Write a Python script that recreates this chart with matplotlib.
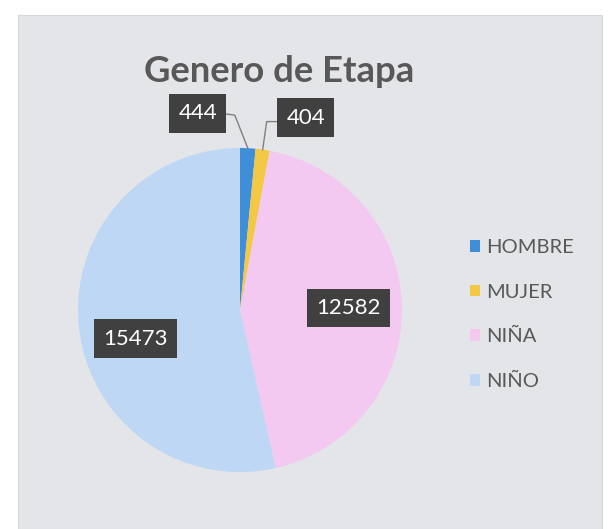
import numpy as np
import matplotlib
matplotlib.use("Agg")
import matplotlib.pyplot as plt
from matplotlib.patches import Rectangle

categories = ["HOMBRE", "MUJER", "NIÑA", "NIÑO"]
values = [444, 404, 12582, 15473]
colors = ["#3f8fd8", "#f2c845", "#f4c9f1", "#bdd7f4"]
title = "Genero de Etapa"

plt.rcParams['font.family'] = ['Lato', 'DejaVu Sans']

W, H = 615, 529
fig = plt.figure(figsize=(W / 100, H / 100), dpi=100, facecolor="white")
ax = fig.add_axes([0, 0, 1, 1])
ax.set_xlim(0, W)
ax.set_ylim(0, H)
ax.set_aspect("equal")
ax.axis("off")

# chart area background
ax.add_patch(Rectangle((18, 0), 584, H - 15, facecolor="#e4e5e8", edgecolor="#d8d8d8", lw=0.8, zorder=0))

cx, cy, R = 240, H - 310, 162
wedges, _ = ax.pie(values, colors=colors, startangle=90, counterclock=False,
                   center=(cx, cy), radius=R, frame=True,
                   wedgeprops=dict(linewidth=0))
ax.set_xlim(0, W)
ax.set_ylim(0, H)
ax.axis("off")

ax.text(279, H - 72, title, ha="center", va="center", fontsize=26.3,
        fontweight="bold", color="#585858")

box = dict(boxstyle="square,pad=0.42", facecolor="#404040", edgecolor="none")
lab_kw = dict(ha="center", va="center", fontsize=16, color="white", bbox=box, zorder=5)

total = sum(values)
angles = []
a = 90.0
for v in values:
    span = 360.0 * v / total
    angles.append(a - span / 2)
    a -= span

# small slices: outside labels with leader lines
small_offsets = {0: ((-50, 35), (-13, 33), (-27, 35)), 1: ((43, 32), (4, 28), (16, 28))}
for i, (toff, elbow, lineend) in small_offsets.items():
    th = np.deg2rad(angles[i])
    ex, ey = cx + R * np.cos(th), cy + R * np.sin(th)
    ax.plot([ex, ex + elbow[0], ex + lineend[0]], [ey, ey + elbow[1], ey + lineend[1]],
            color="#808080", lw=1.0, zorder=4)
    ax.text(ex + toff[0], ey + toff[1], str(values[i]), **lab_kw)

# big slices: inside labels
for i, dang in ((2, 0.0), (3, 9.0)):
    th = np.deg2rad(angles[i] + dang)
    ax.text(cx + 0.67 * R * np.cos(th), cy + 0.67 * R * np.sin(th), str(values[i]), **lab_kw)

leg = ax.legend(wedges, categories, loc="upper left", bbox_to_anchor=(470 / W, 1 - 239 / H),
                bbox_transform=fig.transFigure, frameon=False, fontsize=14.5,
                handlelength=0.5, handleheight=0.5, handletextpad=0.3,
                labelspacing=1.37, borderaxespad=0, borderpad=0)
for t in leg.get_texts():
    t.set_color("#595959")

fig.savefig("out.png", dpi=100, facecolor="white")
